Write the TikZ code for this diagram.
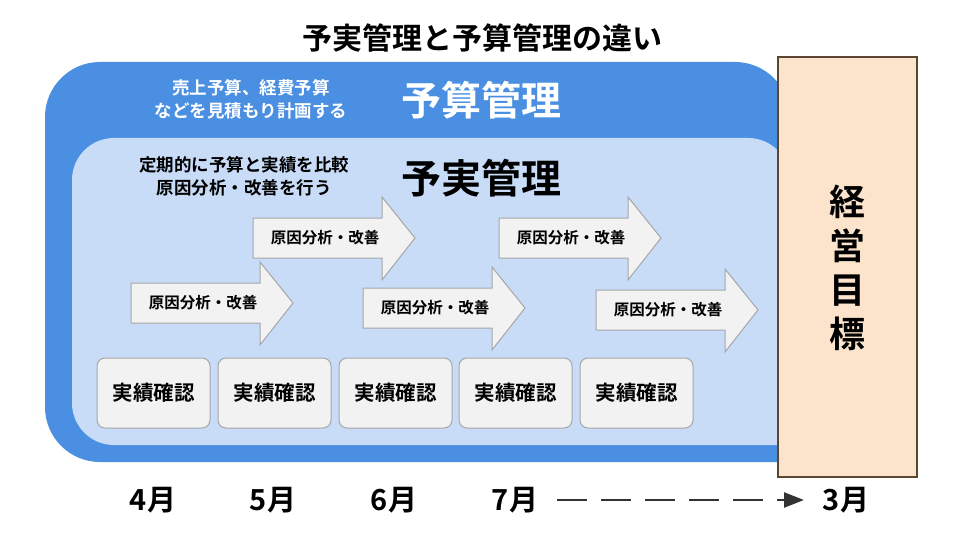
\documentclass[tikz,border=0pt]{standalone}
\usepackage{fontspec}
\setmainfont{Noto Sans CJK JP}
\newfontfamily\jpb{Noto Sans CJK JP Bold}
\usetikzlibrary{arrows.meta}
\definecolor{outerblue}{HTML}{4A8FE2}
\definecolor{innerblue}{HTML}{C8DCF8}
\definecolor{boxgray}{HTML}{F2F2F2}
\definecolor{peach}{HTML}{FCE4CC}
\definecolor{brownline}{HTML}{5A4632}
\tikzset{
  barrow/.style={fill=boxgray,draw=gray!70,line width=1pt},
  check/.style={draw=gray!70,fill=boxgray,rounded corners=8pt,line width=1pt,minimum width=113pt,minimum height=70pt,font=\jpb\fontsize{20.5}{22}\selectfont},
  alab/.style={font=\jpb\fontsize{15.5}{17}\selectfont},
  mon/.style={font=\jpb\fontsize{29}{30}\selectfont}
}
\newcommand\blockarrow[3]{% name, left x, top y
  \draw[barrow] (#2,#3+21) -- (#2+129,#3+21) -- (#2+129,#3) -- (#2+162,#3+41) -- (#2+129,#3+83) -- (#2+129,#3+61) -- (#2,#3+61) -- cycle;
  \node[alab] (#1) at (#2+72,#3+41) {原因分析・改善};
}
\begin{document}
\begin{tikzpicture}[x=1pt,y=-1pt]
\useasboundingbox (0,0) rectangle (960,540);
\fill[white] (0,0) rectangle (960,540);
\node[font=\jpb\fontsize{30}{32}\selectfont] (title) at (482,38) {予実管理と予算管理の違い};
% outer
\fill[outerblue,rounded corners=55pt] (45,62) -- (790,62) [sharp corners] -- (790,462) [rounded corners=55pt] -- (45,462) -- cycle;
\fill[innerblue,rounded corners=42pt] (72,138) -- (790,138) [sharp corners] -- (790,445) [rounded corners=42pt] -- (72,445) -- cycle;
\node[white,align=center,font=\jpb\fontsize{17.5}{23}\selectfont] (budtxt) at (251,99) {売上予算、経費予算\\などを見積もり計画する};
\node[white,font=\jpb\fontsize{40}{42}\selectfont] (bud) at (481,100) {予算管理};
\node[align=center,font=\jpb\fontsize{17.5}{23}\selectfont] (yjtxt) at (244,176) {定期的に予算と実績を比較\\原因分析・改善を行う};
\node[font=\jpb\fontsize{40}{42}\selectfont] (yj) at (481,178) {予実管理};
\blockarrow{a1}{131}{262}
\blockarrow{a2}{253}{197}
\blockarrow{a3}{363}{267}
\blockarrow{a4}{499}{197}
\blockarrow{a5}{596}{269}
\node[check] (c1) at (153.5,393) {実績確認};
\node[check] (c2) at (274.5,393) {実績確認};
\node[check] (c3) at (395.5,393) {実績確認};
\node[check] (c4) at (515.5,393) {実績確認};
\node[check] (c5) at (636.5,393) {実績確認};
% goal box
\draw[fill=peach,draw=brownline,line width=2pt] (778,57) rectangle (917,477);
\node[align=center,font=\jpb\fontsize{36}{44}\selectfont] (goal) at (847,268) {経\\営\\目\\標};
% months
\node[mon] (m4) at (153,500) {4月};
\node[mon] (m5) at (273,500) {5月};
\node[mon] (m6) at (394,500) {6月};
\node[mon] (m7) at (515,500) {7月};
\node[mon] (m3) at (846,500) {3月};
\draw[gray!40!black,line width=2.5pt,dash pattern=on 30pt off 14pt,-{Triangle[length=20pt,width=15pt]}] (557,500) -- (804,500);
\end{tikzpicture}
\end{document}
